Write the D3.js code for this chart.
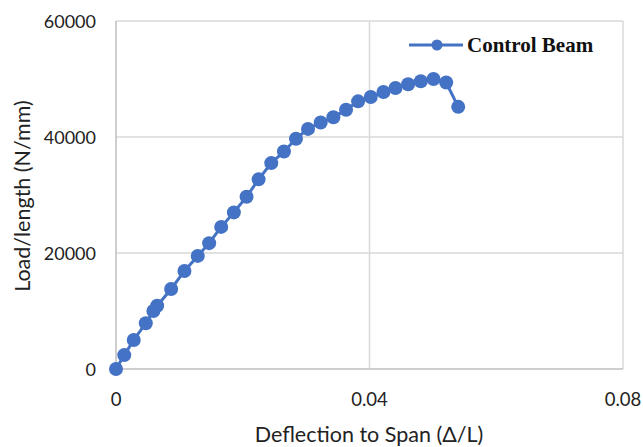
<!DOCTYPE html>
<html>
<head>
<meta charset="utf-8">
<script src="https://cdn.jsdelivr.net/npm/d3@7"></script>
<style>
  body { margin: 0; background: #fff; }
  svg { display: block; }
</style>
</head>
<body>
<svg width="643" height="447"></svg>
<script>
// deflection to span (Δ/L)
let deflection = [0, 0.0013, 0.0028, 0.0047, 0.0059, 0.0065, 0.0087, 0.0108, 0.0129, 0.0147,
  0.0166, 0.0186, 0.0206, 0.0225, 0.0245, 0.0265, 0.0284, 0.0303, 0.0323, 0.0343,
  0.0363, 0.0382, 0.0402, 0.0422, 0.0441, 0.0461, 0.0481, 0.0501, 0.0521, 0.054]
// load per length (N/mm)
let load = [0, 2400, 5000, 7900, 10000, 10900, 13800, 16900, 19500, 21700,
  24500, 27000, 29700, 32700, 35500, 37500, 39700, 41400, 42500, 43400,
  44700, 46150, 46900, 47750, 48450, 49100, 49600, 50000, 49400, 45200]
let xTicks = [0, 0.04, 0.08]
let yTicks = [0, 20000, 40000, 60000]
let seriesName = 'Control Beam'

let blue = '#4472C4'
let svg = d3.select('svg')
let plotLeft = 116, plotRight = 623, plotTop = 21, plotBottom = 369

let x = d3.scaleLinear().domain([0, 0.08]).range([plotLeft, plotRight])
let y = d3.scaleLinear().domain([0, 60000]).range([plotBottom, plotTop])

// gridlines
svg.append('g').selectAll('line')
  .data(yTicks.slice(1))
  .enter().append('line')
  .attr('x1', plotLeft).attr('x2', plotRight)
  .attr('y1', d => y(d)).attr('y2', d => y(d))
  .attr('stroke', '#d9d9d9').attr('stroke-width', 1.5)
svg.append('g').selectAll('line')
  .data(xTicks.slice(1))
  .enter().append('line')
  .attr('y1', plotTop).attr('y2', plotBottom)
  .attr('x1', d => x(d)).attr('x2', d => x(d))
  .attr('stroke', '#d9d9d9').attr('stroke-width', 1.5)

// axis lines
svg.append('line').attr('x1', plotLeft).attr('x2', plotLeft).attr('y1', plotTop).attr('y2', plotBottom)
  .attr('stroke', '#bfbfbf').attr('stroke-width', 1.5)
svg.append('line').attr('x1', plotLeft).attr('x2', plotRight).attr('y1', plotBottom).attr('y2', plotBottom)
  .attr('stroke', '#bfbfbf').attr('stroke-width', 1.5)

let font = 'Lato, "Open Sans", sans-serif'

// tick labels
svg.append('g').selectAll('text')
  .data(yTicks)
  .enter().append('text')
  .attr('x', 96).attr('y', d => y(d) + 6.5)
  .attr('text-anchor', 'end')
  .attr('font-family', font).attr('font-size', 18).attr('fill', '#222')
  .text(d => d)
svg.append('g').selectAll('text')
  .data(xTicks)
  .enter().append('text')
  .attr('x', d => x(d)).attr('y', 406)
  .attr('text-anchor', 'middle')
  .attr('font-family', font).attr('font-size', 18.5).attr('fill', '#222')
  .text(d => d)

// axis titles
svg.append('text')
  .attr('x', 369).attr('y', 442)
  .attr('text-anchor', 'middle')
  .attr('font-family', font).attr('font-size', 21.5).attr('fill', '#222')
  .text('Deflection to Span (Δ/L)')
svg.append('text')
  .attr('transform', 'translate(30,196) rotate(-90)')
  .attr('text-anchor', 'middle')
  .attr('font-family', font).attr('font-size', 21.5).attr('fill', '#222')
  .text('Load/length (N/mm)')

// series
let points = deflection.map((d, i) => [d, load[i]])
let line = d3.line().x(d => x(d[0])).y(d => y(d[1]))
svg.append('path')
  .attr('d', line(points))
  .attr('fill', 'none').attr('stroke', blue).attr('stroke-width', 3)
svg.append('g').selectAll('circle')
  .data(points)
  .enter().append('circle')
  .attr('cx', d => x(d[0])).attr('cy', d => y(d[1]))
  .attr('r', 7).attr('fill', blue)

// legend
let legend = svg.append('g')
legend.append('line').attr('x1', 409).attr('x2', 463).attr('y1', 45).attr('y2', 45)
  .attr('stroke', blue).attr('stroke-width', 3)
legend.append('circle').attr('cx', 437).attr('cy', 45).attr('r', 5.5).attr('fill', blue)
legend.append('text')
  .attr('x', 467).attr('y', 52)
  .attr('font-family', '"Liberation Serif", "Times New Roman", serif')
  .attr('font-weight', 'bold').attr('font-size', 21).attr('fill', '#111')
  .text(seriesName)
</script>
</body>
</html>
